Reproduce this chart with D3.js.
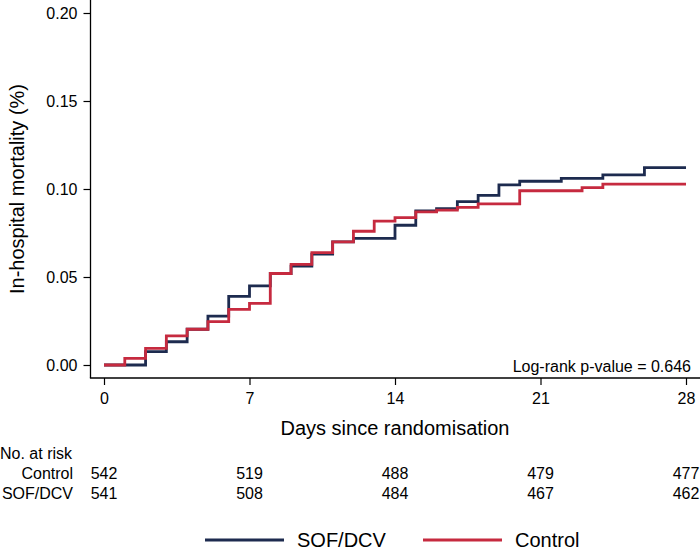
<!DOCTYPE html>
<html>
<head>
<meta charset="utf-8">
<script src="https://cdn.jsdelivr.net/npm/d3@7"></script>
<style>
  body { margin: 0; background: #fff; }
  text { font-family: "Liberation Sans", Arial, sans-serif; fill: #000; }
</style>
</head>
<body>
<div id="chart"></div>
<script>
// Kaplan-Meier style cumulative mortality, step values
var sofDays = [0, 2, 3, 4, 5, 6, 7, 8, 9, 10, 11, 12, 14, 15, 16, 17, 18, 19, 20, 22, 24, 26, 28];
var sofVals = [0, 0.0076, 0.0132, 0.0203, 0.0278, 0.039, 0.045, 0.052, 0.0562, 0.063, 0.070, 0.072,
  0.0794, 0.0875, 0.0888, 0.0928, 0.0964, 0.1023, 0.1044, 0.106, 0.108, 0.1121, 0.1121];

var ctlDays = [0, 1, 2, 3, 4, 5, 6, 7, 8, 9, 10, 11, 12, 13, 14, 15, 16, 17, 18, 20, 23, 24, 28];
var ctlVals = [0, 0.0038, 0.0095, 0.0165, 0.0203, 0.0246, 0.0316, 0.035, 0.052, 0.0572, 0.0638, 0.070,
  0.076, 0.0818, 0.0837, 0.087, 0.088, 0.0896, 0.0915, 0.099, 0.1008, 0.1028, 0.1028];

var xTicks = [0, 7, 14, 21, 28];
var yTicks = [0, 0.05, 0.10, 0.15, 0.20];

var riskGroups = ["Control", "SOF/DCV"];
var riskControl = [542, 519, 488, 479, 477];
var riskSof = [541, 508, 484, 467, 462];

var navy = "#1d2b4f";
var red = "#c62a3f";

var svgWidth = 700;
var svgHeight = 550;

var svg = d3.select("#chart")
  .append("svg")
  .attr("width", svgWidth)
  .attr("height", svgHeight);

var x = d3.scaleLinear().domain([0, 28]).range([104, 686]);
var y = d3.scaleLinear().domain([0, 0.2]).range([365, 13]);

var axisX = 90.5;
var axisY = 378;

// y axis
var yAxis = svg.append("g")
  .attr("transform", `translate(${axisX},0)`)
  .call(d3.axisLeft(y).tickValues(yTicks).tickSize(7).tickPadding(6)
    .tickFormat(d3.format(".2f")));
yAxis.select(".domain").remove();
yAxis.selectAll("line").attr("stroke", "#000").attr("stroke-width", 1.2);
yAxis.selectAll("text").style("font-size", "16px").attr("font-family", null);

// x axis
var xAxis = svg.append("g")
  .attr("transform", `translate(0,${axisY})`)
  .call(d3.axisBottom(x).tickValues(xTicks).tickSize(7).tickPadding(8));
xAxis.select(".domain").remove();
xAxis.selectAll("line").attr("stroke", "#000").attr("stroke-width", 1.2);
xAxis.selectAll("text").style("font-size", "16px").attr("font-family", null);

// axis lines (L shape)
svg.append("line")
  .attr("x1", axisX).attr("x2", axisX)
  .attr("y1", 0).attr("y2", axisY)
  .attr("stroke", "#000").attr("stroke-width", 1.3);
svg.append("line")
  .attr("x1", axisX - 0.6).attr("x2", svgWidth)
  .attr("y1", axisY).attr("y2", axisY)
  .attr("stroke", "#000").attr("stroke-width", 1.3);

// step curves
var step = d3.line()
  .x(function(d) { return x(d[0]); })
  .y(function(d) { return y(d[1]); })
  .curve(d3.curveStepAfter);

svg.append("path")
  .datum(d3.zip(sofDays, sofVals))
  .attr("d", step)
  .attr("fill", "none")
  .attr("stroke", navy)
  .attr("stroke-width", 2.8);

svg.append("path")
  .datum(d3.zip(ctlDays, ctlVals))
  .attr("d", step)
  .attr("fill", "none")
  .attr("stroke", red)
  .attr("stroke-width", 2.8);

// log-rank annotation
svg.append("text")
  .attr("x", 691)
  .attr("y", 372)
  .attr("text-anchor", "end")
  .style("font-size", "16px")
  .text("Log-rank p-value = 0.646");

// axis titles
svg.append("text")
  .attr("x", x(14))
  .attr("y", 435)
  .attr("text-anchor", "middle")
  .style("font-size", "20px")
  .text("Days since randomisation");

svg.append("text")
  .attr("transform", `translate(24, ${y(0.1)}) rotate(-90)`)
  .attr("text-anchor", "middle")
  .style("font-size", "20px")
  .text("In-hospital mortality (%)");

// number at risk table
svg.append("text")
  .attr("x", 0)
  .attr("y", 459)
  .style("font-size", "16px")
  .text("No. at risk");

var riskRows = [riskControl, riskSof];
var rowY = [479, 499];

riskRows.forEach(function(row, i) {
  svg.append("text")
    .attr("x", 73)
    .attr("y", rowY[i])
    .attr("text-anchor", "end")
    .style("font-size", "16px")
    .text(riskGroups[i]);

  svg.selectAll(".risk" + i)
    .data(row)
    .enter().append("text")
      .attr("class", "risk" + i)
      .attr("x", function(d, j) { return x(xTicks[j]); })
      .attr("y", rowY[i])
      .attr("text-anchor", "middle")
      .style("font-size", "16px")
      .text(function(d) { return d; });
});

// legend
var legend = [
  { label: "SOF/DCV", color: navy, x0: 205 },
  { label: "Control", color: red, x0: 423 }
];

legend.forEach(function(l) {
  svg.append("line")
    .attr("x1", l.x0).attr("x2", l.x0 + 79)
    .attr("y1", 540).attr("y2", 540)
    .attr("stroke", l.color)
    .attr("stroke-width", 2.8);
  svg.append("text")
    .attr("x", l.x0 + 92)
    .attr("y", 547)
    .style("font-size", "20px")
    .text(l.label);
});
</script>
</body>
</html>
